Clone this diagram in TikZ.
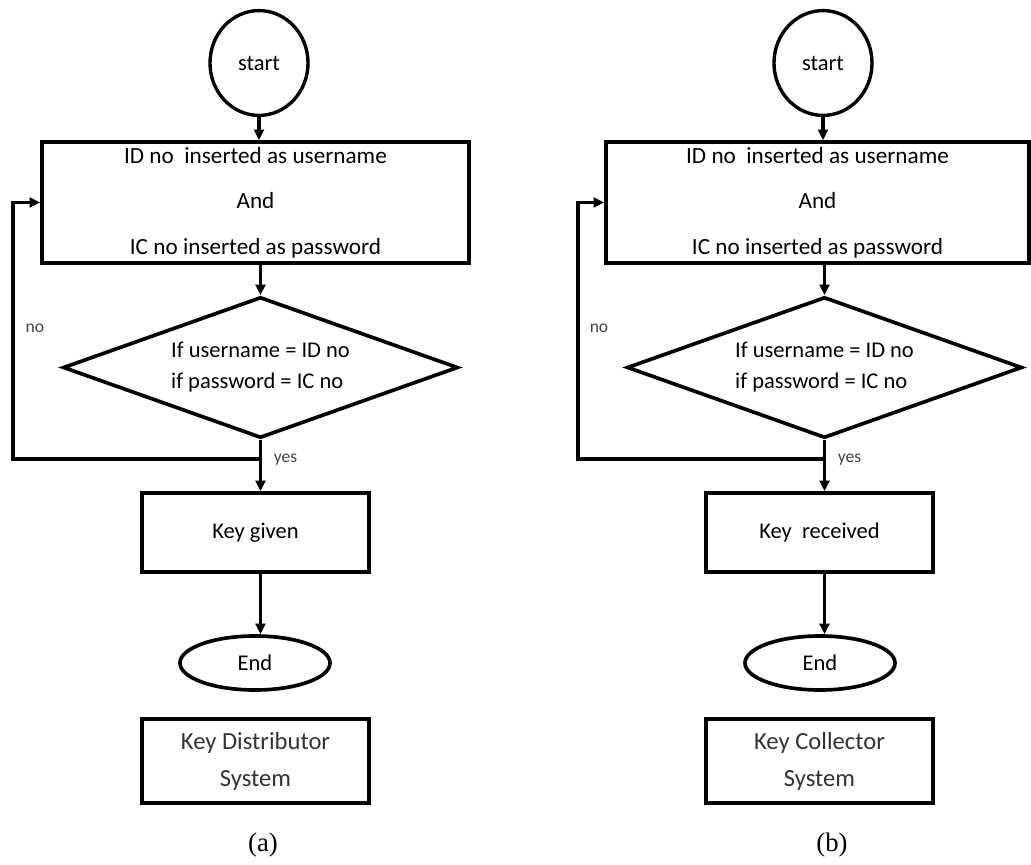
\documentclass[tikz,border=0pt]{standalone}
\usepackage{fontspec}
\setmainfont{Carlito}
\newfontfamily\capfont{Liberation Serif}
\usetikzlibrary{shapes.geometric,arrows.meta,shadows}
\definecolor{systext}{HTML}{333333}
\definecolor{lbltext}{HTML}{444444}
\begin{document}
\begin{tikzpicture}[x=0.025cm,y=-0.025cm,
  line join=miter,
  box/.style={draw, line width=2.6pt, rectangle, inner sep=0pt, align=center,
    font=\fontsize{16.5}{32.4}\selectfont},
  startnode/.style={draw, ellipse, line width=2.4pt, minimum width=2.45cm, minimum height=2.62cm,
    inner sep=0pt, font=\fontsize{16}{19}\selectfont},
  endnode/.style={draw, ellipse, line width=2.6pt, minimum width=3.75cm, minimum height=1.35cm,
    inner sep=0pt, font=\fontsize{16}{19}\selectfont},
  decision/.style={draw, diamond, line width=2.6pt, minimum width=9.875cm, minimum height=3.525cm,
    aspect=2.8, inner sep=0pt, align=left, font=\fontsize{16}{22}\selectfont},
  sysbox/.style={draw, fill=white, line width=2.4pt, rectangle, inner sep=0pt, align=center,
    minimum width=5.675cm, minimum height=2.1cm, text=systext,
    font=\fontsize{17.5}{26.3}\selectfont,
    drop shadow={opacity=1, fill=gray, shadow xshift=0pt, shadow yshift=-1.5pt}},
  lbl/.style={inner sep=0pt, text=lbltext, font=\fontsize{12.5}{15}\selectfont},
  caption/.style={inner sep=0pt, font=\capfont\fontsize{19}{22}\selectfont},
  conn/.style={line width=2.3pt},
  arr/.style={line width=2.3pt, -{Triangle[length=7.5pt,width=7pt]}}
]
\useasboundingbox (0,0) rectangle (1031,865);

% ---------- (a) ----------
\node[startnode] (s1) at (259,63) {start};
\node[box, minimum width=10.675cm, minimum height=3.025cm] (r1) at (255.5,202.5)
  {ID no\ \ inserted as username\\And\\IC no inserted as password};
\node[decision] (d1) at (260.5,367.5) {If username = ID no\\if password = IC no};
\node[box, minimum width=5.675cm, minimum height=1.975cm, font=\fontsize{16}{19}\selectfont] (k1) at (255.5,532.5) {Key given};
\node[endnode] (e1) at (255,663) {End};
\node[sysbox] (y1) at (255.5,761) {Key Distributor\\System};
\node[caption] (c1) at (263,845) {(a)};
\node[lbl] (n1) at (35,328) {no};
\node[lbl] (p1) at (285.5,460) {yes};
\coordinate (j1) at (260.5,459);
\coordinate (l1) at (13,459);

\draw[arr] (s1.south) -- (s1.south |- r1.north);
\draw[arr] (d1.north |- r1.south) -- (d1.north);
\draw[conn] (d1.south) -- (j1);
\draw[arr] (j1) -- (l1) |- (r1.west);
\draw[arr] (j1) -- (j1 |- k1.north);
\draw[arr] (j1 |- k1.south) -- (j1 |- e1.north);

% ---------- (b) ----------
\node[startnode] (s2) at (823,63) {start};
\node[box, minimum width=10.575cm, minimum height=3.025cm] (r2) at (817.5,202.5)
  {ID no\ \ inserted as username\\And\\IC no inserted as password};
\node[decision] (d2) at (824.5,367.5) {If username = ID no\\if password = IC no};
\node[box, minimum width=5.675cm, minimum height=1.975cm, font=\fontsize{16}{19}\selectfont] (k2) at (819.5,532.5) {Key\ \ received};
\node[endnode] (e2) at (820,663) {End};
\node[sysbox] (y2) at (819.5,761) {Key Collector\\System};
\node[caption] (c2) at (832,845) {(b)};
\node[lbl] (n2) at (599,328) {no};
\node[lbl] (p2) at (849.5,460) {yes};
\coordinate (j2) at (824.5,459);
\coordinate (l2) at (578,459);

\draw[arr] (s2.south) -- (s2.south |- r2.north);
\draw[arr] (d2.north |- r2.south) -- (d2.north);
\draw[conn] (d2.south) -- (j2);
\draw[arr] (j2) -- (l2) |- (r2.west);
\draw[arr] (j2) -- (j2 |- k2.north);
\draw[arr] (j2 |- k2.south) -- (j2 |- e2.north);
\end{tikzpicture}
\end{document}
